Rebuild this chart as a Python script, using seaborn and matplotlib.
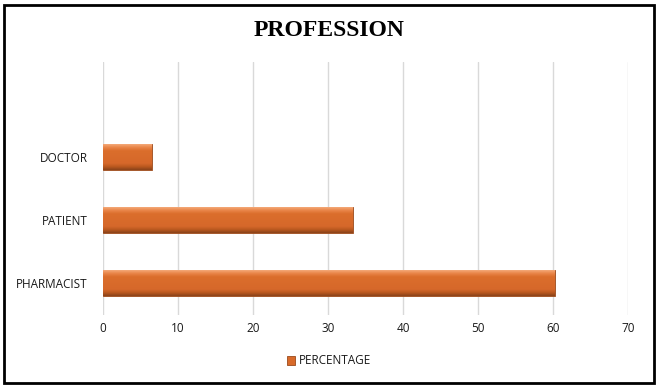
import numpy as np
import pandas as pd
import matplotlib
matplotlib.use("Agg")
import matplotlib.pyplot as plt
import seaborn as sns
from matplotlib.patches import Rectangle
from matplotlib.colors import LinearSegmentedColormap

categories = ["DOCTOR", "PATIENT", "PHARMACIST"]
percentage = [6.5, 33.3, 60.2]
series_name = "PERCENTAGE"
xticks = [0, 10, 20, 30, 40, 50, 60, 70]

df = pd.DataFrame({"Profession": categories, series_name: percentage})

sns.set_theme(style="white")
plt.rcParams['font.family'] = ['Open Sans', 'DejaVu Sans']

fig = plt.figure(figsize=(6.58, 3.88), dpi=100)
ax = fig.add_axes([103/658, 1-315/388, (628-103)/658, (315-62)/388])

base = "#D86A2A"
sns.barplot(data=df, y="Profession", x=series_name, order=categories, color=base,
            width=0.41, ax=ax, saturation=1, edgecolor="#9A4A1C", linewidth=0.6,
            label=series_name, zorder=3)

# bevel-like shading clipped to each bar
cmap = LinearSegmentedColormap.from_list(
    "g", [(0.0, "#F4A878"), (0.12, "#E98548"), (0.25, "#DB6E2C"), (0.75, "#D6682A"),
          (0.88, "#B9581F"), (1.0, "#8A431A")])
grad = np.linspace(0, 1, 64).reshape(-1, 1)
for p in ax.patches:
    x0, y0 = p.get_x(), p.get_y()
    w, h = p.get_width(), p.get_height()
    im = ax.imshow(grad, cmap=cmap, aspect="auto", extent=[x0, x0 + w, y0 + h, y0],
                   origin="upper", zorder=3.5, interpolation="bilinear")
    im.set_clip_path(p)

ax.set_xlim(0, 70)
ax.set_ylim(2.5, -1.5)
ax.set_xticks(xticks)
ax.set_xticklabels([str(t) for t in xticks])
ax.grid(axis="x", color="#D9D9D9", linewidth=1, zorder=0)
ax.grid(axis="y", visible=False)
for s in ax.spines.values():
    s.set_visible(False)
ax.tick_params(axis="both", length=0, labelsize=8.5, colors="#1a1a1a")
ax.tick_params(axis="y", pad=11)
ax.tick_params(axis="x", pad=5)
ax.set_xlabel("")
ax.set_ylabel("")

leg = ax.legend(loc="center", bbox_to_anchor=(0.5, 1-361/388), bbox_transform=fig.transFigure,
                frameon=False, fontsize=8.5,
                handlelength=0.7, handleheight=0.7, handletextpad=0.3)
for t in leg.get_texts():
    t.set_color("#1a1a1a")

fig.text(0.5, 1-30/388, "PROFESSION", ha="center", va="center", fontsize=17,
         fontweight="bold", family="Liberation Serif", color="black")

fig.patches.append(Rectangle((4/658, 5/388), 650/658, 378/388, transform=fig.transFigure,
                             fill=False, edgecolor="black", linewidth=2))

fig.savefig("out.png", dpi=100)
